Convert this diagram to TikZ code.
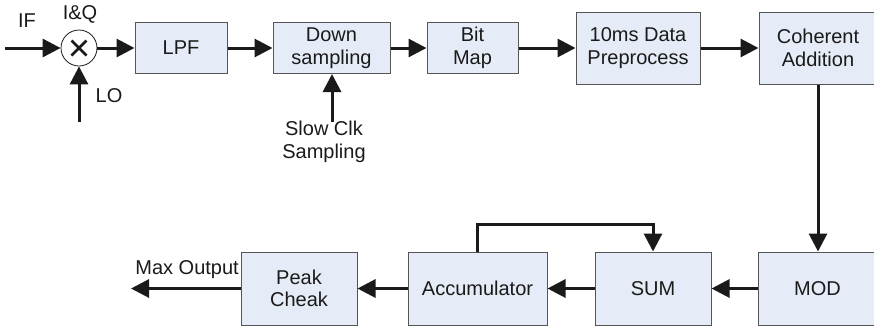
\documentclass[tikz,border=0pt]{standalone}
\usepackage{fontspec}
\setmainfont{Liberation Sans}
\usetikzlibrary{arrows.meta}
\definecolor{boxfill}{RGB}{230,236,247}
\definecolor{boxline}{RGB}{85,85,85}
\definecolor{ink}{RGB}{26,26,26}
\begin{document}
\begin{tikzpicture}[x=1pt,y=-1pt,
  lbl/.style={font={\fontsize{20}{22.5}\selectfont},text=ink,inner sep=0pt,align=center},
  blk/.style={lbl,draw=boxline,fill=boxfill,line width=1pt},
  arr/.style={draw=ink,line width=3pt,-{Triangle[length=18pt,width=18pt]}},
  ln/.style={draw=ink,line width=3pt}]
\useasboundingbox (0,0) rectangle (874,327);
% mixer
\node[draw=ink,fill=white,circle,line width=0.8pt,minimum size=36pt,inner sep=0pt] (mix) at (79,48) {};
\draw[ink,line width=2.6pt] (mix.center) ++(-7.5,-7.5) -- ++(15,15);
\draw[ink,line width=2.6pt] (mix.center) ++(-7.5,7.5) -- ++(15,-15);
\node[lbl] (iflbl) at (27,21) {IF};
\node[lbl] (iqlbl) at (80,14) {I\&Q};
\node[lbl] (lolbl) at (109,96) {LO};
\coordinate (ifin) at (5,48);
\coordinate (loin) at (79,122);
% top row
\node[blk,minimum width=92pt,minimum height=51pt] (lpf) at (181,48) {LPF};
\node[blk,minimum width=117pt,minimum height=51pt] (down) at (331.5,48) {Down\\sampling};
\node[blk,minimum width=91pt,minimum height=51pt] (bit) at (472.5,48) {Bit\\Map};
\node[blk,minimum width=124pt,minimum height=72pt] (pre) at (638,48) {10ms Data\\Preprocess};
\node[blk,minimum width=118pt,minimum height=72pt,text width=118pt] (coh) at (818,48) {Coherent\\Addition};
\node[lbl] (clklbl) at (324,142) {Slow Clk\\Sampling};
\coordinate (clk) at (332,122);
% bottom row
\node[blk,minimum width=119pt,minimum height=73pt] (mod) at (817.5,288.5) {MOD};
\node[blk,minimum width=116pt,minimum height=73pt] (sum) at (653,288.5) {SUM};
\node[blk,minimum width=139pt,minimum height=73pt] (acc) at (477.5,288.5) {Accumulator};
\node[blk,minimum width=116pt,minimum height=73pt] (peak) at (299,288.5) {Peak\\Cheak};
\node[lbl,anchor=east] (maxlbl) at (239,270) {Max Output};
\coordinate (maxout) at (131,288.5);
% connectors
\draw[arr] (ifin) -- (mix);
\draw[arr] (loin) -- (mix);
\draw[arr] (mix) -- (lpf);
\draw[arr] (lpf) -- (down);
\draw[arr] (down) -- (bit);
\draw[arr] (bit) -- (pre);
\draw[arr] (pre) -- (coh);
\draw[arr] (clk) -- (clk |- down.south);
\draw[arr] (coh.south) -- (coh.south |- mod.north);
\draw[arr] (mod) -- (sum);
\draw[arr] (sum) -- (acc);
\draw[arr] (acc) -- (peak);
\draw[arr] (peak) -- (maxout);
\draw[arr] (acc.north) -- ++(0,-27) -| (sum.north);
\end{tikzpicture}
\end{document}
